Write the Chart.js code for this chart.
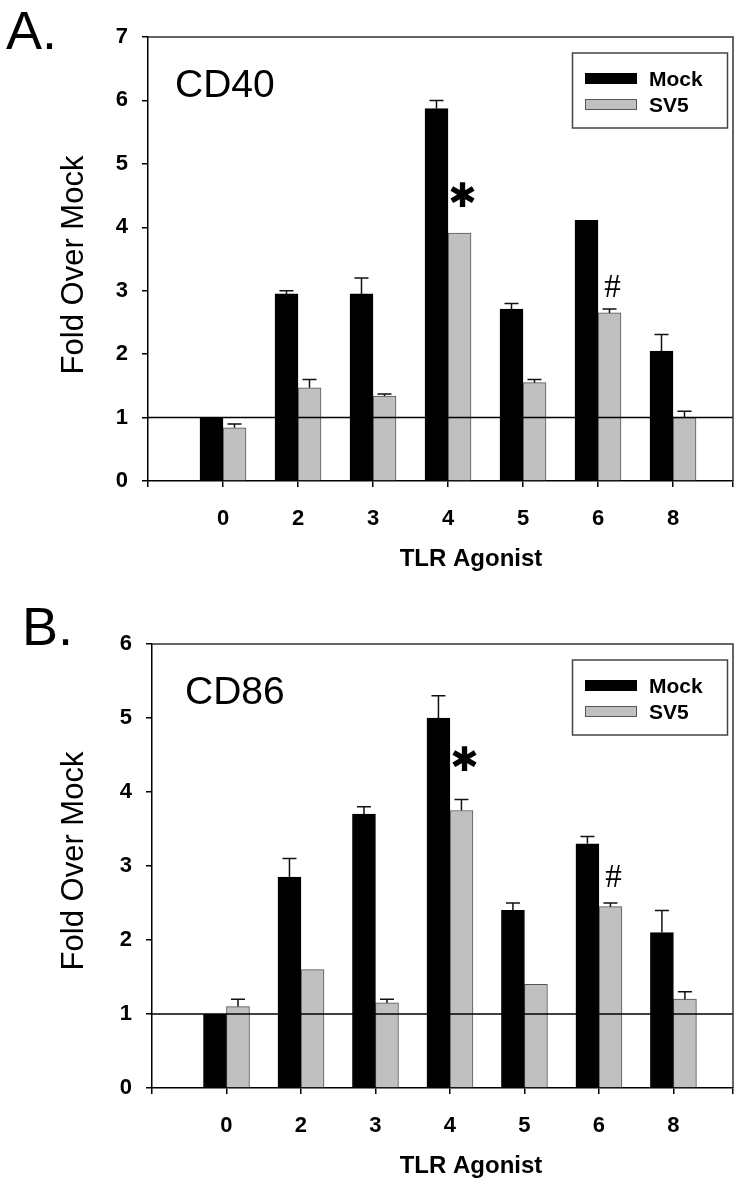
<!DOCTYPE html>
<html lang="en">
<head>
  <meta charset="UTF-8" />
  <title>TLR Agonist - CD40 / CD86</title>
  <script src="https://cdn.jsdelivr.net/npm/chart.js"></script>
  <style>
    body { margin: 0; background: #fff; }
    .panel { position: relative; width: 752px; height: 592px; }
  </style>
</head>
<body>
  <div class="panel"><canvas id="cd40Chart" width="752" height="592"></canvas></div>
  <div class="panel"><canvas id="cd86Chart" width="752" height="592"></canvas></div>

  <script>
    // categories (TLR agonist number)
    const tlrAgonists = ['0', '2', '3', '4', '5', '6', '8'];
    const seriesNames = ['Mock', 'SV5'];

    // panel A: CD40, fold over mock
    const cd40Mock = [1.0, 2.95, 2.95, 5.87, 2.71, 4.11, 2.05];
    const cd40MockErr = [0, 0.05, 0.25, 0.13, 0.09, 0, 0.26];
    const cd40Sv5 = [0.84, 1.47, 1.34, 3.91, 1.55, 2.65, 1.0];
    const cd40Sv5Err = [0.06, 0.13, 0.03, 0, 0.05, 0.06, 0.1];

    // panel B: CD86, fold over mock
    const cd86Mock = [1.0, 2.85, 3.7, 5.0, 2.4, 3.3, 2.1];
    const cd86MockErr = [0, 0.25, 0.1, 0.3, 0.1, 0.1, 0.3];
    const cd86Sv5 = [1.1, 1.6, 1.15, 3.75, 1.4, 2.45, 1.2];
    const cd86Sv5Err = [0.1, 0, 0.05, 0.15, 0, 0.05, 0.1];

    // significance marks: [category index, symbol, y value]
    const cd40Notes = [[3, '✱', 4.46], [5, '#', 3.03]];
    const cd86Notes = [[3, '✱', 4.4], [5, '#', 2.84]];

    const yTicksA = { max: 7 };
    const yTicksB = { max: 6 };

    const FONT = 'Liberation Sans, Arial, sans-serif';

    const panelDecor = {
      id: 'panelDecor',
      afterDatasetsDraw(chart, args, o) {
        const { ctx, chartArea: a, scales: { y } } = chart;
        ctx.save();

        // error bars (upper only)
        ctx.strokeStyle = '#111';
        ctx.lineWidth = 1.5;
        chart.data.datasets.forEach((ds, di) => {
          const meta = chart.getDatasetMeta(di);
          ds.errors.forEach((e, i) => {
            if (!e) return;
            const bar = meta.data[i];
            const top = y.getPixelForValue(ds.data[i].y + e);
            ctx.beginPath();
            ctx.moveTo(bar.x, bar.y);
            ctx.lineTo(bar.x, top);
            ctx.moveTo(bar.x - 7, top);
            ctx.lineTo(bar.x + 7, top);
            ctx.stroke();
          });
        });

        // baseline at fold = 1
        const y1 = y.getPixelForValue(1);
        ctx.strokeStyle = '#000';
        ctx.beginPath();
        ctx.moveTo(a.left, y1);
        ctx.lineTo(a.right, y1);
        ctx.stroke();

        // frame top and right
        ctx.strokeStyle = '#333';
        ctx.beginPath();
        ctx.moveTo(a.left, a.top);
        ctx.lineTo(a.right, a.top);
        ctx.lineTo(a.right, a.bottom);
        ctx.stroke();

        // significance marks over the SV5 bars
        const sv5Meta = chart.getDatasetMeta(1);
        ctx.fillStyle = '#000';
        ctx.textAlign = 'center';
        ctx.textBaseline = 'middle';
        o.notes.forEach(([i, sym, v]) => {
          ctx.font = sym === '#' ? '33px Liberation Serif, serif' : '34px DejaVu Sans, sans-serif';
          ctx.fillText(sym, sv5Meta.data[i].x + 3, y.getPixelForValue(v));
        });

        // legend box
        const lx = 572.5, ly = a.top + 16;
        ctx.strokeStyle = '#444';
        ctx.lineWidth = 1.5;
        ctx.strokeRect(lx, ly, 155, 75);
        chart.data.datasets.forEach((ds, di) => {
          const cy = ly + 26 + di * 26;
          ctx.fillStyle = ds.backgroundColor;
          ctx.fillRect(585, cy - 6, 52, 11);
          ctx.lineWidth = 1;
          ctx.strokeStyle = ds.borderColor;
          ctx.strokeRect(585.5, cy - 5.5, 51, 10);
          ctx.fillStyle = '#000';
          ctx.font = 'bold 21px ' + FONT;
          ctx.textAlign = 'left';
          ctx.fillText(ds.label, 649, cy + 1);
        });

        // panel letter, marker name, axis titles
        ctx.fillStyle = '#000';
        ctx.textAlign = 'left';
        ctx.font = '54px ' + FONT;
        ctx.fillText(o.letter, o.letterX, o.letterY);
        ctx.font = '39px ' + FONT;
        ctx.fillText(o.marker, a.left + o.markerDx, a.top + 49);

        ctx.textAlign = 'center';
        ctx.font = 'bold 24px ' + FONT;
        ctx.fillText('TLR Agonist', 471, a.bottom + 78);

        ctx.save();
        ctx.translate(74, (a.top + a.bottom) / 2 + o.titleDy);
        ctx.rotate(-Math.PI / 2);
        ctx.font = '31px ' + FONT;
        ctx.fillText('Fold Over Mock', 0, 0);
        ctx.restore();

        ctx.restore();
      }
    };

    function makePanel(id, mock, mockErr, sv5, sv5Err, yMax, axisLeft, top, notes, deco) {
      const toPoints = vals => vals.map((v, i) => ({ x: i, y: v }));
      new Chart(document.getElementById(id), {
        type: 'bar',
        data: {
          datasets: [
            { label: seriesNames[0], data: toPoints(mock), errors: mockErr,
              backgroundColor: '#000', borderColor: '#000', borderWidth: 1 },
            { label: seriesNames[1], data: toPoints(sv5), errors: sv5Err,
              backgroundColor: '#c0c0c0', borderColor: '#555', borderWidth: 1 }
          ]
        },
        options: {
          responsive: false,
          animation: false,
          barThickness: 23,
          layout: { padding: { top: top, right: 11, left: 0, bottom: 0 } },
          plugins: {
            legend: { display: false },
            tooltip: { enabled: false },
            panelDecor: Object.assign({ notes: notes }, deco)
          },
          scales: {
            x: {
              type: 'linear',
              offset: false,
              min: -1,
              max: 6.8,
              afterFit: s => { s.height = 592 - deco.axisBottom; },
              grid: { offset: false, drawOnChartArea: false, tickLength: 6, color: '#000', lineWidth: 1.5 },
              border: { color: '#000', width: 1.5 },
              ticks: {
                stepSize: 1,
                padding: 19,
                color: '#000',
                font: { family: FONT, size: 22, weight: 'bold' },
                callback: v => (Number.isInteger(v) && v >= 0 && v < tlrAgonists.length) ? tlrAgonists[v] : ''
              }
            },
            y: {
              min: 0,
              max: yMax,
              afterFit: s => { s.width = axisLeft; },
              grid: { drawOnChartArea: false, tickLength: 6, color: '#000', lineWidth: 1.5 },
              border: { color: '#000', width: 1.5 },
              ticks: {
                stepSize: 1,
                padding: 14,
                color: '#000',
                font: { family: FONT, size: 22, weight: 'bold' }
              }
            }
          }
        },
        plugins: [panelDecor]
      });
    }

    makePanel('cd40Chart', cd40Mock, cd40MockErr, cd40Sv5, cd40Sv5Err, yTicksA.max, 148, 37, cd40Notes,
      { letter: 'A.', letterX: 6, letterY: 34, marker: 'CD40', markerDx: 27, titleDy: 6, axisBottom: 481 });
    makePanel('cd86Chart', cd86Mock, cd86MockErr, cd86Sv5, cd86Sv5Err, yTicksB.max, 152, 52, cd86Notes,
      { letter: 'B.', letterX: 22, letterY: 38, marker: 'CD86', markerDx: 33, titleDy: -5, axisBottom: 496 });
  </script>
</body>
</html>
